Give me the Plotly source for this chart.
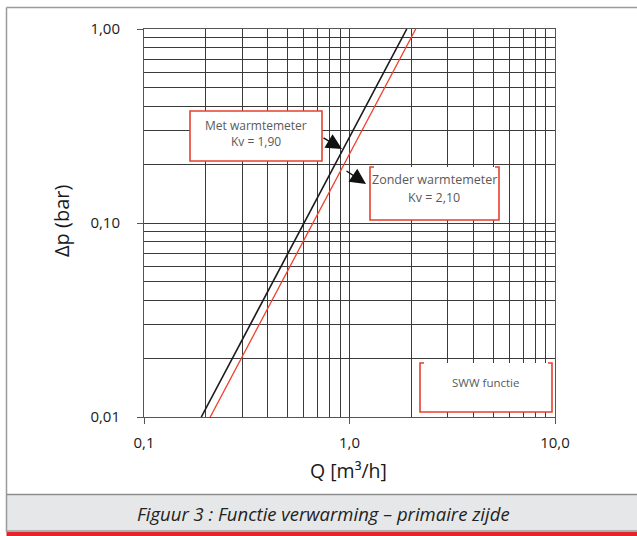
import plotly.graph_objects as go

# ---- data ----
dp_ends = [0.01, 1.00]              # Δp endpoints (bar)
q_met = [0.19, 1.90]                # Met warmtemeter, Kv = 1,90
q_zonder = [0.21, 2.10]             # Zonder warmtemeter, Kv = 2,10

x_major = [0.1, 1.0, 10.0]
x_major_text = ["0,1", "1,0", "10,0"]
x_minor = [0.2, 0.3, 0.4, 0.5, 0.6, 0.7, 0.8, 0.9, 2, 3, 4, 5, 6, 7, 8, 9]
y_major = [0.01, 0.1, 1.0]
y_major_text = ["0,01", "0,10", "1,00"]
y_minor = [0.02, 0.03, 0.04, 0.05, 0.06, 0.07, 0.08, 0.09,
           0.2, 0.3, 0.4, 0.5, 0.6, 0.7, 0.8, 0.9]

W, H = 637, 536
ML, MR, MT, MB = 144, 82, 29, 119
PW, PH = W - ML - MR, H - MT - MB


def px(x):
    return (x - ML) / PW


def py(y):
    return (H - MB - y) / PH


RED = "#e8402f"
GRID = "#3a3a3a"
TXT = "#5a5a5a"
FONT = "Open Sans"

fig = go.Figure()
fig.add_trace(go.Scatter(x=q_met, y=dp_ends, mode="lines",
                         line=dict(color="#1a1a1a", width=1.6),
                         showlegend=False, hoverinfo="skip"))
fig.add_trace(go.Scatter(x=q_zonder, y=dp_ends, mode="lines",
                         line=dict(color="#f0402a", width=1.3),
                         showlegend=False, hoverinfo="skip"))

axis_common = dict(
    type="log", showgrid=True, gridcolor=GRID, gridwidth=1,
    showline=True, linecolor="#555555", linewidth=1, mirror=True,
    ticks="outside", ticklen=6, tickcolor="#555555", tickwidth=1,
    tickfont=dict(family=FONT, size=15, color="#1a1a1a"),
    zeroline=False, tickmode="array",
)

fig.update_xaxes(**axis_common, range=[-1, 1], tickvals=x_major, ticktext=x_major_text,
                 ticklabelstandoff=6,
                 minor=dict(tickmode="array", tickvals=x_minor, showgrid=True,
                            gridcolor=GRID, gridwidth=1, ticks=""))
fig.update_yaxes(**axis_common, range=[-2, 0], tickvals=y_major, ticktext=y_major_text,
                 ticklabelstandoff=14,
                 minor=dict(tickmode="array", tickvals=y_minor, showgrid=True,
                            gridcolor=GRID, gridwidth=1, ticks=""))

shapes = []
# outer frame (top + left gray lines)
shapes.append(dict(type="line", xref="paper", yref="paper", x0=px(6.5), x1=px(637), y0=py(7.5), y1=py(7.5),
                   line=dict(color="#9a9a9a", width=1.5)))
shapes.append(dict(type="line", xref="paper", yref="paper", x0=px(6.5), x1=px(6.5), y0=py(7.5), y1=py(532),
                   line=dict(color="#9a9a9a", width=1.5)))
# caption band
shapes.append(dict(type="rect", xref="paper", yref="paper", x0=px(6.5), x1=px(637), y0=py(494), y1=py(532),
                   fillcolor="#e6e7e8", line=dict(width=0), layer="below"))
shapes.append(dict(type="line", xref="paper", yref="paper", x0=px(6.5), x1=px(637), y0=py(494.5), y1=py(494.5),
                   line=dict(color="#8e8e8e", width=1.5)))
shapes.append(dict(type="line", xref="paper", yref="paper", x0=px(6.5), x1=px(637), y0=py(531), y1=py(531),
                   line=dict(color="#9a9a9a", width=1.5)))
shapes.append(dict(type="rect", xref="paper", yref="paper", x0=px(6.5), x1=px(637), y0=py(532), y1=py(536),
                   fillcolor="#e3242b", line=dict(width=0)))


def box(x0, y0, x1, y1, full=True, stub=4):
    out = [dict(type="rect", xref="paper", yref="paper", x0=px(x0), x1=px(x1), y0=py(y0), y1=py(y1),
                fillcolor="white", line=dict(width=0), layer="above")]
    if full:
        out.append(dict(type="rect", xref="paper", yref="paper", x0=px(x0), x1=px(x1), y0=py(y0), y1=py(y1),
                        fillcolor="rgba(0,0,0,0)", line=dict(color=RED, width=1.6), layer="above"))
    else:
        path = (f"M {px(x0 + stub)} {py(y0)} L {px(x0)} {py(y0)} L {px(x0)} {py(y1)} "
                f"L {px(x1)} {py(y1)} L {px(x1)} {py(y0)} L {px(x1 - stub)} {py(y0)}")
        out.append(dict(type="path", xref="paper", yref="paper", path=path,
                        line=dict(color=RED, width=1.6), layer="above"))
    return out


shapes += box(190, 111, 322, 161, full=True)
shapes += box(370, 167, 499, 220, full=False)
shapes += box(420, 363, 552, 412, full=False)

annotations = []


def txt(x, y, s, size, color=TXT, **kw):
    annotations.append(dict(xref="paper", yref="paper", x=px(x), y=py(y), text=s, showarrow=False,
                            xanchor="center", yanchor="middle",
                            font=dict(family=FONT, size=size, color=color), **kw))


txt(256, 125, "Met warmtemeter", 12)
txt(256, 141, "Kv = 1,90", 12)
txt(434, 180, "Zonder warmtemeter", 12.5)
txt(434, 197, "Kv = 2,10", 12.5)
txt(485, 382, "SWW functie", 11.5)

# axis titles
txt(61, 221, "Δp (bar)", 20, color="#1a1a1a", textangle=-90)
txt(348, 470, "Q [m³/h]", 19.5, color="#1a1a1a")
# caption
txt(323, 513, "<i>Figuur 3 : Functie verwarming – primaire zijde</i>", 18.5, color="#222222")

# arrows
for tip, tail in [((342, 149), (322, 137)), ((366, 184), (345, 170))]:
    annotations.append(dict(xref="paper", yref="paper", x=px(tip[0]), y=py(tip[1]),
                            ax=tail[0] - tip[0], ay=tail[1] - tip[1], text="",
                            showarrow=True, arrowhead=2, arrowsize=2.1, arrowwidth=1.5,
                            arrowcolor="#111111"))

fig.update_layout(
    width=W, height=H,
    margin=dict(l=ML, r=MR, t=MT, b=MB),
    paper_bgcolor="white", plot_bgcolor="white",
    shapes=shapes, annotations=annotations,
    showlegend=False,
)

fig.write_html("out.html")
